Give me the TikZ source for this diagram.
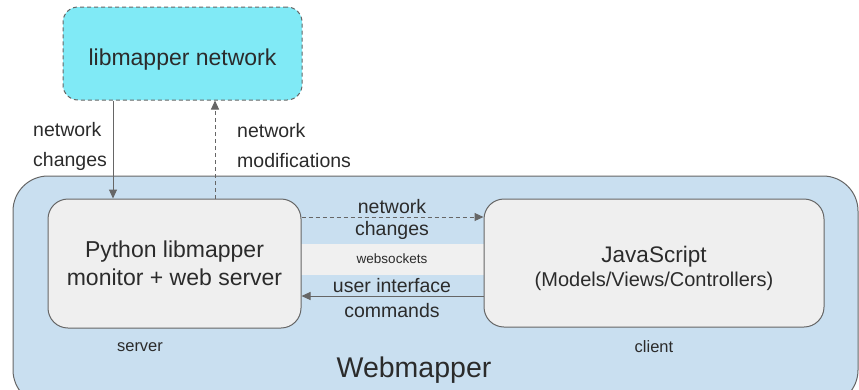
\documentclass[tikz,border=0pt]{standalone}
\usepackage{fontspec}
\setmainfont{Liberation Sans}
\usetikzlibrary{arrows.meta}
\definecolor{cyanfill}{HTML}{80EAF6}
\definecolor{outerfill}{HTML}{C9DFF0}
\definecolor{innerfill}{HTML}{EFEFEF}
\definecolor{bandfill}{HTML}{F0F0F0}
\definecolor{linegray}{HTML}{666666}
\definecolor{txt}{HTML}{2B2B2B}
\tikzset{
  box/.style={draw=linegray, line width=1pt, fill=innerfill, rounded corners=20pt},
  lbl/.style={text=txt, font=\fontsize{19.5}{30}\selectfont, align=left, inner sep=0pt},
  arr/.style={draw=linegray, line width=1pt, -{Triangle[length=9pt,width=8pt]}},
  darr/.style={arr, dash pattern=on 4pt off 3pt},
}
\begin{document}
\begin{tikzpicture}[x=1pt,y=-1pt]
\useasboundingbox (0,0) rectangle (859,389);
% outer webmapper
\draw[draw=linegray, line width=1pt, fill=outerfill, rounded corners=35pt] (13,176) rectangle (858,405);
% websockets band
\fill[bandfill] (301,244) rectangle (484,275);
% libmapper network
\node[draw=linegray, line width=1pt, dash pattern=on 4pt off 3pt, fill=cyanfill, rounded corners=15pt,
      minimum width=239pt, minimum height=93pt, text=txt, font=\fontsize{23}{26}\selectfont, text height=24pt, text depth=0pt] (net) at (182.5,53.5) {libmapper network};
% python box
\node[box, minimum width=253pt, minimum height=129pt, text=txt, font=\fontsize{23}{28}\selectfont, align=center] (py) at (174.5,263.5) {Python libmapper\\monitor + web server};
% JS box
\node[box, minimum width=340pt, minimum height=128pt] (js) at (654,263) {};
\node[text=txt, align=center, inner sep=0pt] (jst) at (654,268) {{\fontsize{22.5}{24}\selectfont JavaScript}\\[4pt]{\fontsize{20}{22}\selectfont (Models/Views/Controllers)}};
% coordinates for arrows
\coordinate (a1s) at (113,100);
\coordinate (a1e) at (113,198);
\coordinate (a2s) at (215,199);
\coordinate (a2e) at (215,101);
\coordinate (a3s) at (301,217);
\coordinate (a3e) at (483,217);
\coordinate (a4s) at (484,296);
\coordinate (a4e) at (302,296);
\draw[arr] (net.south -| a1s) -- (py.north -| a1e);
\draw[darr] (py.north -| a2s) -- (net.south -| a2e);
\draw[darr] (py.east |- a3s) -- (js.west |- a3e);
\draw[arr] (js.west |- a4s) -- (py.east |- a4e);
% labels
\node[lbl, anchor=west] (l1) at (33,146) {network\\changes};
\node[lbl, anchor=west] (l2) at (237,146) {network\\modifications};
\node[lbl, align=center] (l3a) at (392,207) {network};
\node[lbl, align=center] (l3b) at (392,230) {changes};
\node[text=txt, font=\fontsize{13.5}{15}\selectfont, inner sep=0pt] (ws) at (392,259) {websockets};
\node[lbl, align=center] (l4a) at (392,286) {user interface};
\node[lbl, align=center] (l4b) at (392,311) {commands};
\node[text=txt, font=\fontsize{16.5}{18}\selectfont, inner sep=0pt] (srv) at (140,347) {server};
\node[text=txt, font=\fontsize{16.5}{18}\selectfont, inner sep=0pt] (cli) at (654,347) {client};
\node[text=txt, font=\fontsize{28.5}{30}\selectfont, inner sep=0pt] (wm) at (414,370) {Webmapper};
\end{tikzpicture}
\end{document}
